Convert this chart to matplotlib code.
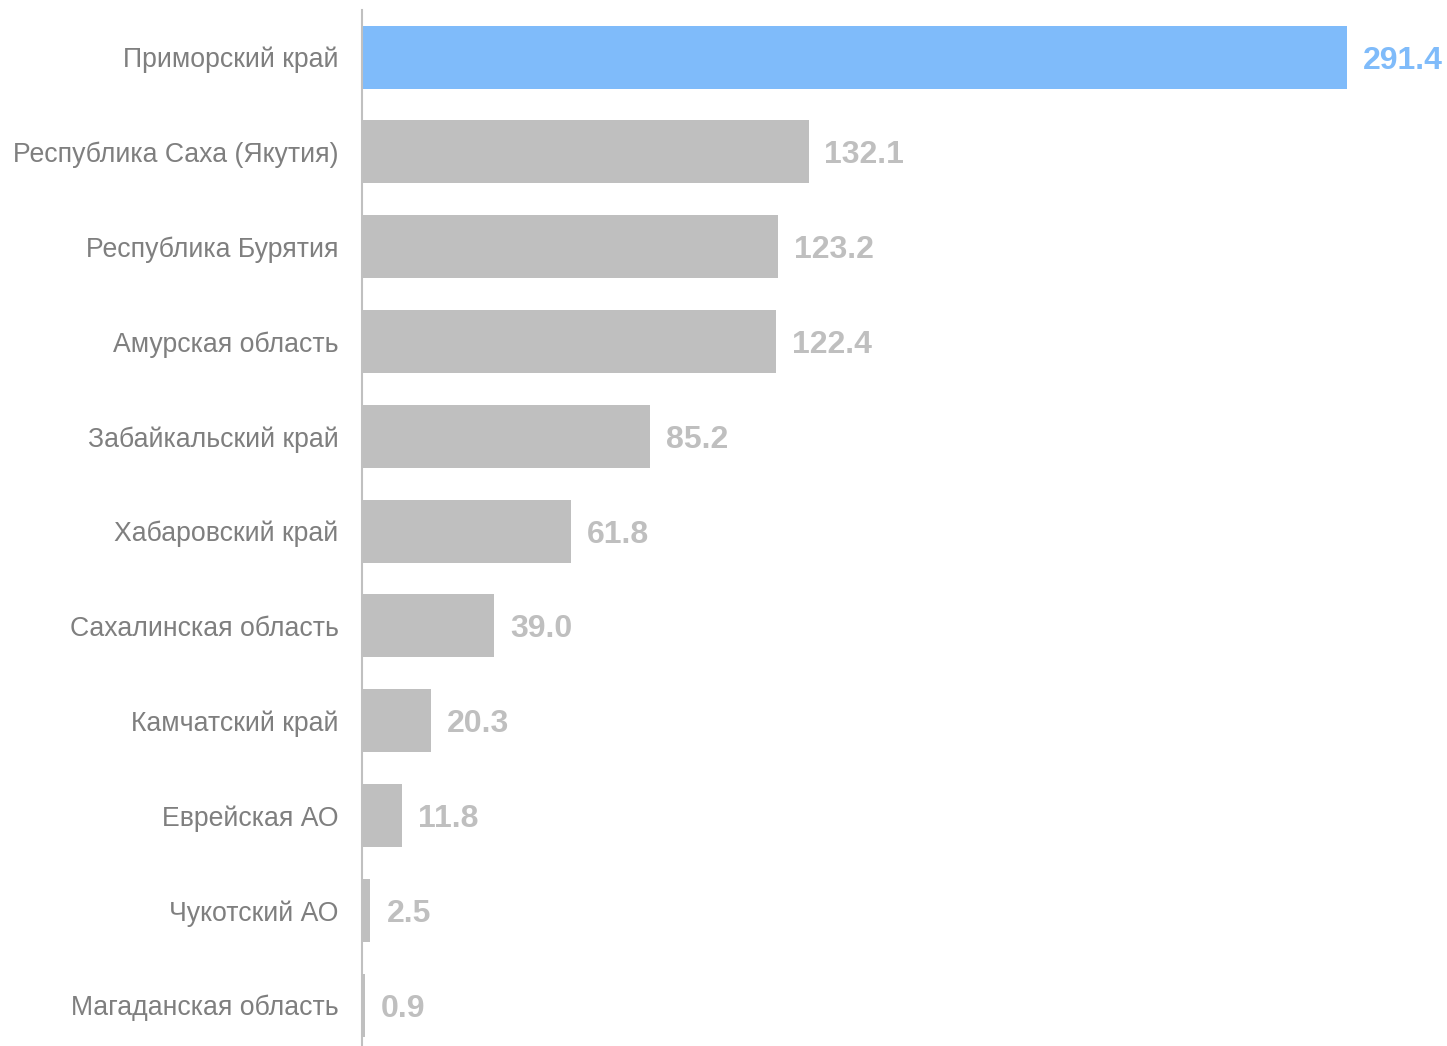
import matplotlib.pyplot as plt
import matplotlib

matplotlib.rcParams['font.family'] = ['Liberation Sans', 'DejaVu Sans']

regions = ['Приморский край', 'Республика Саха (Якутия)', 'Республика Бурятия',
           'Амурская область', 'Забайкальский край', 'Хабаровский край',
           'Сахалинская область', 'Камчатский край', 'Еврейская АО',
           'Чукотский АО', 'Магаданская область']
values = [291.4, 132.1, 123.2, 122.4, 85.2, 61.8, 39.0, 20.3, 11.8, 2.5, 0.9]
highlight = 'Приморский край'

blue = '#7fbbfa'
grey = '#bfbfbf'

fig = plt.figure(figsize=(14.47, 10.46), dpi=100)
ax = fig.add_axes([362 / 1447, 0, 1 - 362 / 1447, 1036 / 1046])

pos = list(range(len(regions)))
colors = [blue if r == highlight else grey for r in regions]
ax.barh(pos, values, height=0.665, color=colors)

for p, v, c in zip(pos, values, colors):
    ax.annotate(f'{v:.1f}', (v, p), xytext=(11.5, -2.5), textcoords='offset points',
                va='center', ha='left', fontsize=23, fontweight='bold', color=c)

ax.set_yticks(pos)
ax.set_yticklabels(regions, fontsize=19.2, color='#7f7f7f')
ax.tick_params(axis='y', length=0, pad=17)
ax.set_xticks([])
ax.set_xlim(0, 321)
ax.set_ylim(10.43, -0.496)

for s in ['top', 'right', 'bottom']:
    ax.spines[s].set_visible(False)
ax.spines['left'].set_color('#c0c0c0')
ax.spines['left'].set_linewidth(1.5)

fig.savefig('out.png', dpi=100)
